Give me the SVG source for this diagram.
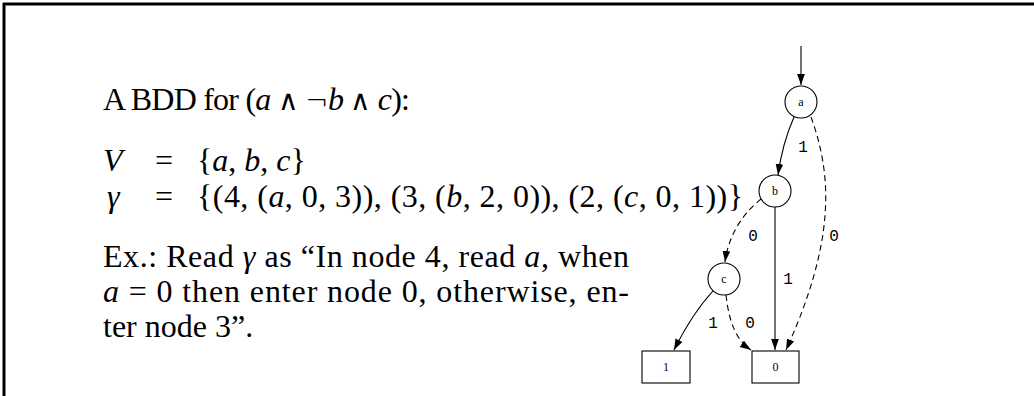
<svg xmlns="http://www.w3.org/2000/svg" width="1034" height="396" viewBox="0 0 1034 396">
<style>
.t{font-family:"Liberation Serif","Times New Roman",serif;font-size:32px;fill:#000}
.m{font-style:italic}
.op{font-family:"DejaVu Sans",sans-serif;font-weight:200;font-size:28px}
.nl{font-family:"Liberation Serif",serif;font-size:12px;text-anchor:middle;fill:#000}
.el{font-family:"Liberation Mono","DejaVu Sans Mono",monospace;font-size:16px;text-anchor:middle;fill:#000}
.node{fill:#fff;stroke:#000;stroke-width:1.1}
.e{fill:none;stroke:#000;stroke-width:1.1;marker-end:url(#ah)}
.d{stroke-dasharray:6,4}
</style>
<defs>
<marker id="ah" viewBox="0 0 10 10" refX="10" refY="5" markerWidth="11" markerHeight="11" markerUnits="userSpaceOnUse" orient="auto">
<path d="M0,1.5 L10,5 L0,8.5 Z" fill="#000"/>
</marker>
</defs>
<rect width="1034" height="396" fill="#fff"/>
<g id="frame">
<line x1="3" y1="4" x2="1034" y2="4" stroke="#000" stroke-width="3"/>
<line x1="4" y1="3" x2="4" y2="396" stroke="#000" stroke-width="3"/>
</g>
<g id="text">
<text class="t" x="103" y="110" textLength="307" lengthAdjust="spacing">A BDD for (<tspan class="m">a</tspan> <tspan class="op">∧</tspan> <tspan class="op">¬</tspan><tspan class="m">b</tspan> <tspan class="op">∧</tspan> <tspan class="m">c</tspan>):</text>
<text class="t m" x="103" y="171">V</text>
<text class="t" x="155" y="171">=</text>
<text class="t" x="197" y="171">{<tspan class="m">a</tspan>, <tspan class="m">b</tspan>, <tspan class="m">c</tspan>}</text>
<text class="t m" x="107" y="207">γ</text>
<text class="t" x="155" y="207">=</text>
<text class="t" x="197" y="207" textLength="546" lengthAdjust="spacing">{(4, (<tspan class="m">a</tspan>, 0, 3)), (3, (<tspan class="m">b</tspan>, 2, 0)), (2, (<tspan class="m">c</tspan>, 0, 1))}</text>
<text class="t" x="103" y="267" textLength="526" lengthAdjust="spacing">Ex.: Read <tspan class="m">γ</tspan> as “In node 4, read <tspan class="m">a</tspan>, when</text>
<text class="t" x="103" y="302" textLength="526" lengthAdjust="spacing"><tspan class="m">a</tspan> = 0 then enter node 0, otherwise, en-</text>
<text class="t" x="103" y="337">ter node 3”.</text>
</g>
<g id="connectors">
<path class="e" d="M801,46 L801,85"/>
<path class="e" d="M794,117 C787,133 781,153 778,175"/>
<path class="e d" d="M811,117 C832,175 836,240 786,350"/>
<path class="e d" d="M761,199 C745,212 729,232 725,262"/>
<path class="e" d="M775,207 L775,350"/>
<path class="e" d="M713,291 C700,305 685,328 674,350"/>
<path class="e d" d="M726,295 C729,322 736,340 751,350"/>
<text class="el" x="803" y="152">1</text>
<text class="el" x="834" y="241">0</text>
<text class="el" x="753" y="241">0</text>
<text class="el" x="788" y="284">1</text>
<text class="el" x="713" y="328">1</text>
<text class="el" x="750" y="328">0</text>
</g>
<g id="node-a"><circle class="node" cx="801" cy="102" r="16"/><text class="nl" x="801" y="106">a</text></g>
<g id="node-b"><circle class="node" cx="775" cy="191" r="16"/><text class="nl" x="775" y="195">b</text></g>
<g id="node-c"><circle class="node" cx="724" cy="279" r="16"/><text class="nl" x="724" y="283">c</text></g>
<g id="node-1"><rect class="node" x="642" y="351" width="48" height="32"/><text class="nl" x="666" y="371">1</text></g>
<g id="node-0"><rect class="node" x="752" y="351" width="47" height="32"/><text class="nl" x="775.5" y="371">0</text></g>
</svg>
